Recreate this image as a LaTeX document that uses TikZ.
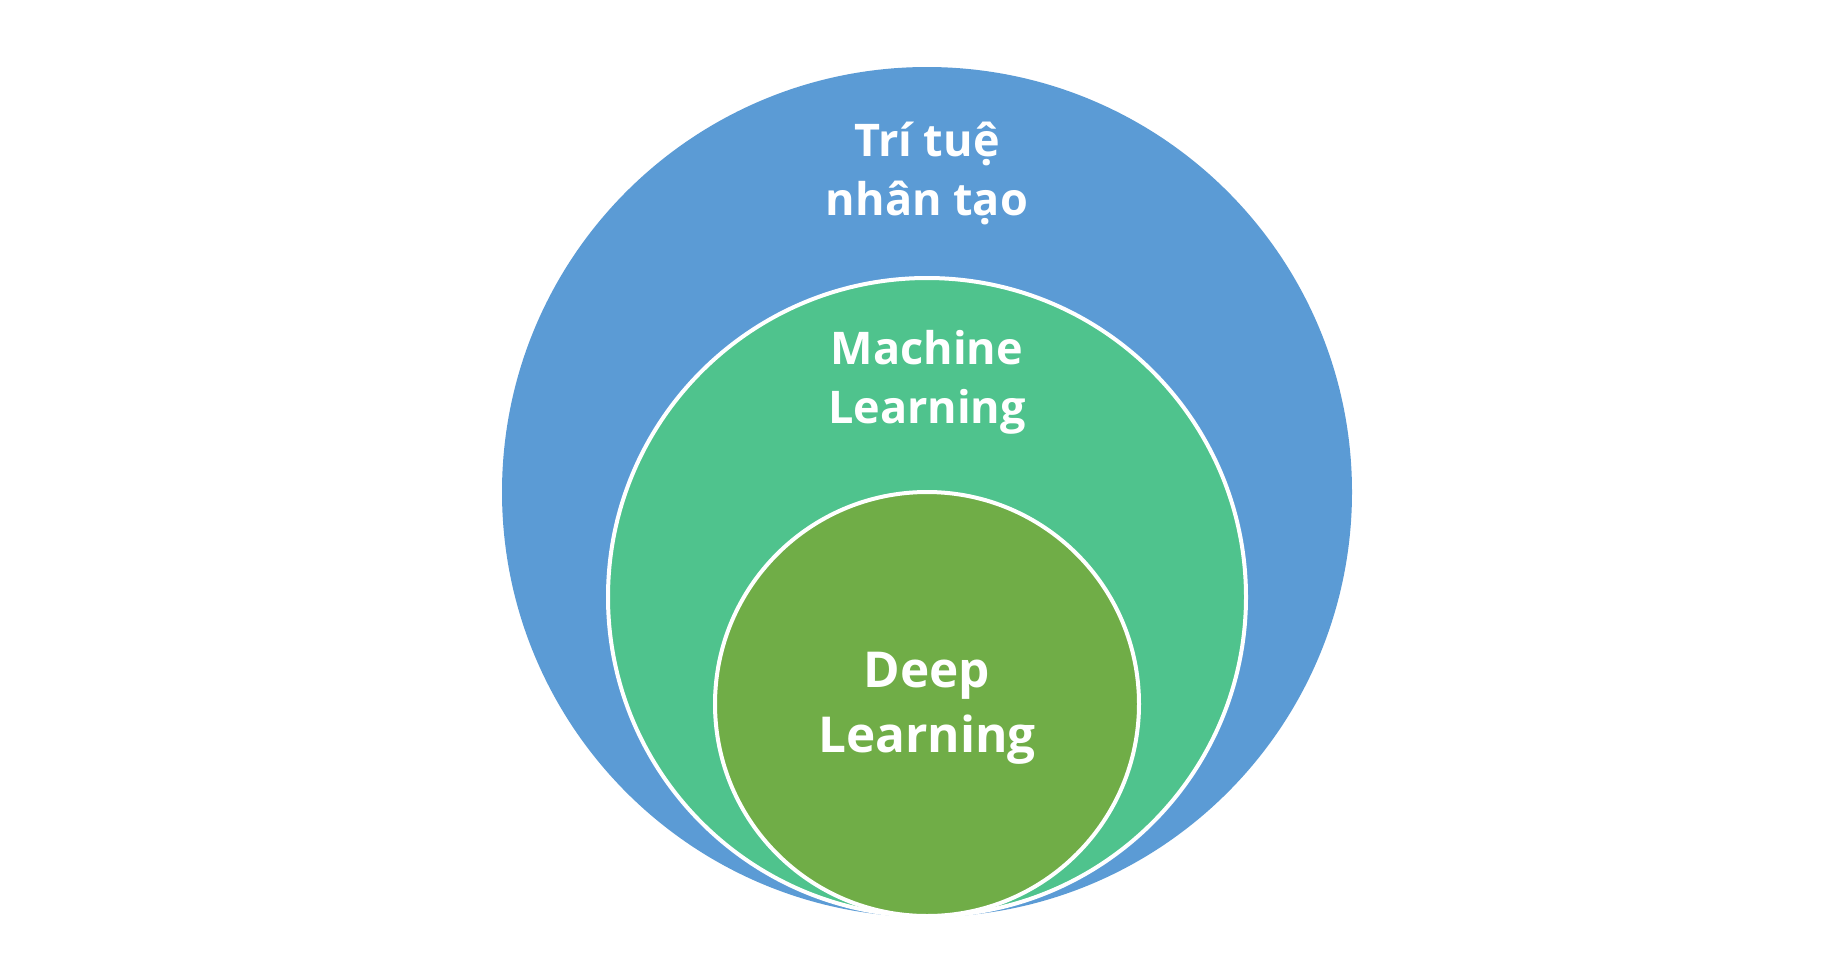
\documentclass[tikz,border=0pt]{standalone}
\usepackage{fontspec}
\setmainfont{Open Sans}
\definecolor{aiblue}{HTML}{5B9BD5}
\definecolor{mlgreen}{HTML}{4FC38D}
\definecolor{dlgreen}{HTML}{70AD47}
\tikzset{
  ring/.style={draw=white, line width=4pt},
  lbl/.style={text=white, font=\bfseries\fontsize{45}{58}\selectfont, anchor=base, inner sep=0pt},
  lblbig/.style={text=white, font=\bfseries\fontsize{49.5}{65}\selectfont, anchor=base, inner sep=0pt}
}
\begin{document}
\begin{tikzpicture}[x=1pt,y=-1pt]
\useasboundingbox[fill=white] (0,0) rectangle (1839,962);
\fill[aiblue] (927,492) circle[radius=425pt];
\filldraw[ring, fill=mlgreen] (927,597) circle[radius=319pt];
\filldraw[ring, fill=dlgreen] (927,704) circle[radius=212pt];
\node[lbl] (ai1) at (927,156) {Trí tuệ};
\node[lbl] (ai2) at (927,215) {nhân tạo};
\node[lbl] (ml1) at (927,364) {Machine};
\node[lbl] (ml2) at (927,423) {Learning};
\node[lblbig] (dl1) at (927,687) {Deep};
\node[lblbig] (dl2) at (927,752) {Learning};
\end{tikzpicture}
\end{document}
